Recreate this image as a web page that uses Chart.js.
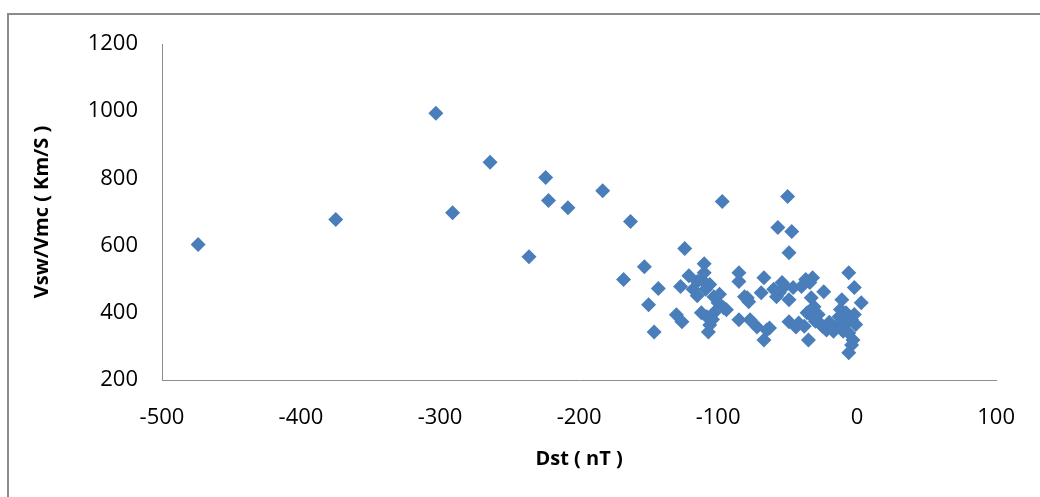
<!DOCTYPE html>
<html>
<head>
<meta charset="utf-8">
<script src="https://cdn.jsdelivr.net/npm/chart.js@4"></script>
<style>
  html, body { margin: 0; padding: 0; background: #fff; }
  #wrap { width: 1040px; height: 497px; }
</style>
</head>
<body>
<div id="wrap"><canvas id="myChart" width="1040" height="497"></canvas></div>
<script>
// Dst (nT) vs Vsw/Vmc (Km/S)
const dst = [
  -474, -375, -303, -291, -264, -236, -224, -222, -208, -183,
  -163, -168, -153, -150, -146, -143, -130, -126, -127, -124,
  -121, -115, -115, -110, -110, -106, -103, -100, -108, -106,
  -107, -103, -94, -97, -85, -85, -81, -78, -85, -77,
  -72, -65, -67, -69, -67, -57, -50, -47, -49, -54,
  -56, -49, -46, -40, -37, -32, -33, -31, -24, -49,
  -44, -35, -32, -27, -22, -15, -13, -8, -6, -3,
  -6, -4, -6, -2, -11, 3, -112, -118, -60, -52,
  -42, -38, -28, -25, -20, -18, -10, -12, -8, -4,
  -2, -1, -30, -36, -17, -112, -104, -109, -99, -96,
  -79, -63, -34, -58, -10
];
const vsw = [
  603, 678, 994, 698, 848, 567, 803, 734, 713, 763,
  672, 499, 537, 424, 343, 472, 394, 373, 478, 591,
  510, 493, 451, 546, 519, 484, 448, 430, 388, 364,
  343, 400, 409, 731, 519, 493, 448, 433, 379, 379,
  358, 349, 319, 460, 504, 654, 746, 642, 579, 490,
  460, 439, 475, 478, 499, 504, 445, 418, 463, 373,
  358, 319, 388, 370, 349, 358, 388, 370, 340, 319,
  281, 304, 519, 475, 439, 430, 500, 470, 470, 480,
  370, 360, 395, 360, 372, 355, 360, 410, 400, 380,
  395, 365, 375, 400, 345, 400, 380, 470, 455, 415,
  445, 355, 490, 448, 345
];

const xTicks = [-500, -400, -300, -200, -100, 0, 100];
const yTicks = [200, 400, 600, 800, 1000, 1200];

const points = dst.map((d, i) => ({ x: d, y: vsw[i] }));

// outer grey frame like the spreadsheet chart box
const frame = {
  id: 'frame',
  beforeDraw(chart) {
    const ctx = chart.ctx;
    ctx.save();
    ctx.strokeStyle = '#8c8c8c';
    ctx.lineWidth = 2;
    ctx.strokeRect(8, 14, 1040, 500);
    ctx.restore();
  }
};

const tickFont = { family: 'Open Sans', size: 22 };
const titleFont = { family: 'Open Sans', size: 20, weight: 'bold' };

const config = {
  type: 'scatter',
  data: {
    datasets: [{
      label: 'Vsw/Vmc',
      data: points,
      pointStyle: 'rectRot',
      pointRadius: 7.5,
      pointHoverRadius: 7.5,
      backgroundColor: 'rgb(74, 126, 187)',
      borderColor: 'rgb(74, 126, 187)',
      borderWidth: 0
    }]
  },
  options: {
    responsive: false,
    animation: false,
    layout: { padding: { left: 0, top: 44, right: 33, bottom: 0 } },
    plugins: { legend: { display: false }, tooltip: { enabled: false } },
    scales: {
      x: {
        type: 'linear',
        min: -500, max: 100,
        afterBuildTicks: s => { s.ticks = xTicks.map(v => ({ value: v })); },
        afterFit: s => { s.height = 117; },
        grid: { display: false, drawTicks: false },
        border: { color: '#8c8c8c', width: 1 },
        ticks: { font: tickFont, color: '#000', padding: 25, callback: v => String(v) },
        title: { display: true, text: 'Dst ( nT )', font: titleFont, color: '#000', padding: { top: 0, bottom: 26 } }
      },
      y: {
        type: 'linear',
        min: 200, max: 1200,
        afterBuildTicks: s => { s.ticks = yTicks.map(v => ({ value: v })); },
        afterFit: s => { s.width = 162; },
        grid: { display: false, drawTicks: false },
        border: { color: '#8c8c8c', width: 1 },
        ticks: { font: tickFont, color: '#000', padding: 24, callback: v => String(v) },
        title: { display: true, text: 'Vsw/Vmc ( Km/S )', font: titleFont, color: '#000', padding: { top: 30, bottom: 0 } }
      }
    }
  },
  plugins: [frame]
};

const myChart = new Chart(document.getElementById('myChart'), config);
</script>
</body>
</html>
